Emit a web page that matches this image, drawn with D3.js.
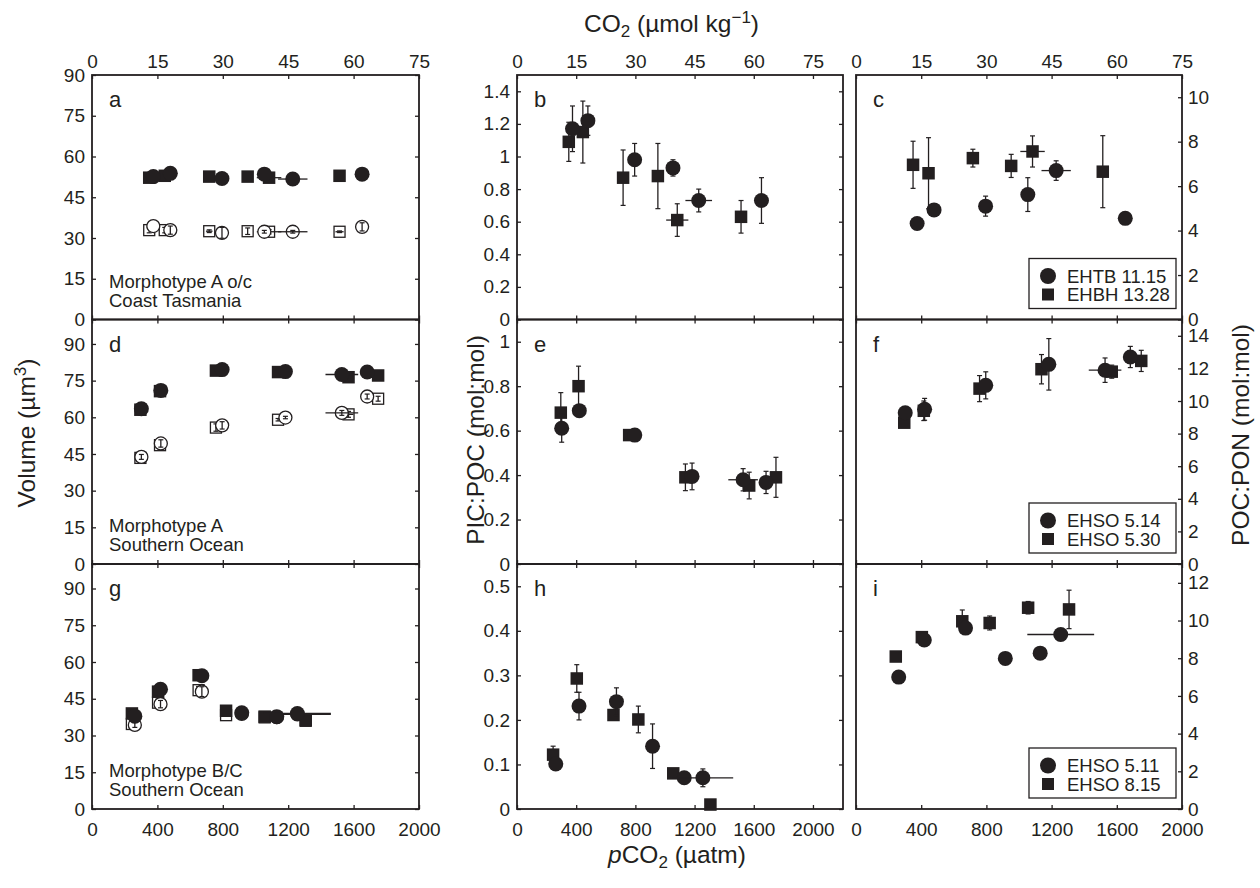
<!DOCTYPE html>
<html>
<head>
<meta charset="utf-8">
<script src="https://cdn.jsdelivr.net/npm/d3@7/dist/d3.min.js"></script>
<style>
  body { margin: 0; background: #fff; }
  svg text { font-family: "Liberation Sans", Arial, Helvetica, sans-serif; fill: #231f20; }
</style>
</head>
<body>
<div id="chart"></div>
<script>
// ---- data ----
// pCO2 (uatm) per treatment, and its SD (horizontal bars)
var xTopCirc = [375, 479, 795, 1054, 1228, 1652],  xeTopCirc = [0, 0, 0, 0, 90, 0];
var xTopSq   = [350, 445, 717, 952, 1083, 1514],   xeTopSq   = [0, 0, 20, 0, 75, 25];
var xMidCirc = [302, 421, 796, 1183, 1528, 1683],  xeMidCirc = [0, 0, 0, 0, 100, 0];
var xMidSq   = [296, 416, 758, 1138, 1569, 1750],  xeMidSq   = [0, 0, 0, 0, 30, 0];
var xBotCirc = [262, 419, 672, 916, 1130, 1256],   xeBotCirc = [0, 0, 0, 0, 0, 205];
var xBotSq   = [244, 404, 652, 820, 1056, 1307],   xeBotSq   = [0, 0, 0, 0, 0, 0];

// volume (um3): filled and open symbols
var aCircFill = [52.6, 53.8, 51.9, 53.5, 51.7, 53.5];
var aSqFill   = [52.2, 52.9, 52.6, 52.6, 52.2, 52.9];
var aCircOpen = [34.4, 32.9, 31.9, 32.3, 32.3, 34.1], aCircOpenErr = [0, 1.5, 2, 0.5, 0.5, 1.5];
var aSqOpen   = [32.9, 32.9, 32.5, 32.5, 32.3, 32.3], aSqOpenErr   = [1, 1, 0.5, 1.2, 0.8, 0.3];
var dCircFill = [63.5, 71.0, 79.5, 78.7, 77.5, 78.5];
var dSqFill   = [63.1, 70.7, 79.1, 78.5, 76.4, 77.1];
var dCircOpen = [43.8, 49.3, 56.7, 59.9, 61.8, 68.5], dCircOpenErr = [1, 1.5, 1.5, 0.5, 1, 1];
var dSqOpen   = [43.4, 48.6, 55.8, 59.0, 61.2, 67.6], dSqOpenErr   = [1, 1.5, 1.5, 0.5, 1.2, 1];
var gCircFill = [37.9, 48.9, 54.4, 39.3, 37.7, 39.0];
var gSqFill   = [39.0, 47.9, 54.6, 40.1, 37.7, 36.3];
var gCircOpen = [34.3, 42.8, 47.9, 38.8, 37.5, 38.6], gCircOpenErr = [1, 1.5, 2, 0, 0, 0];
var gSqOpen   = [34.7, 43.4, 48.5, 38.3, 37.4, 36.0], gSqOpenErr   = [1, 1.5, 1.5, 0.5, 0, 0];

// PIC:POC (mol:mol)
var bCirc = [1.17, 1.22, 0.98, 0.93, 0.73, 0.73], bCircErr = [0.14, 0.09, 0.10, 0.05, 0.07, 0.14];
var bSq   = [1.09, 1.15, 0.87, 0.88, 0.61, 0.63], bSqErr   = [0.12, 0.19, 0.17, 0.20, 0.10, 0.10];
var eCirc = [0.611, 0.69, 0.58, 0.394, 0.379, 0.367], eCircErr = [0.063, 0.02, 0.01, 0.06, 0.05, 0.05];
var eSq   = [0.681, 0.80, 0.58, 0.39, 0.353, 0.39],   eSqErr   = [0.09, 0.09, 0.01, 0.06, 0.06, 0.09];
var hCirc = [0.101, 0.231, 0.241, 0.141, 0.070, 0.070], hCircErr = [0.005, 0.031, 0.031, 0.05, 0.005, 0.02];
var hSq   = [0.122, 0.293, 0.211, 0.201, 0.080, 0.010], hSqErr   = [0.019, 0.031, 0.005, 0.03, 0.005, 0.005];

// POC:PON (mol:mol)
var cCirc = [4.32, 4.93, 5.10, 5.62, 6.70, 4.55], cCircErr = [0.1, 0.1, 0.45, 0.76, 0.44, 0.1];
var cSq   = [6.96, 6.58, 7.26, 6.91, 7.56, 6.65], cSqErr   = [1.06, 1.6, 0.4, 0.52, 0.7, 1.62];
var fCirc = [9.28, 9.49, 10.96, 12.25, 11.89, 12.70], fCircErr = [0.2, 0.67, 0.83, 1.58, 0.75, 0.65];
var fSq   = [8.67, 9.4, 10.76, 11.95, 11.8, 12.46],   fSqErr   = [0.2, 0.6, 0.8, 0.9, 0.4, 0.65];
var iCirc = [7.0, 8.97, 9.6, 7.99, 8.27, 9.26],  iCircErr = [0.1, 0.1, 0.1, 0.1, 0.1, 0.1];
var iSq   = [8.09, 9.12, 9.96, 9.87, 10.68, 10.59], iSqErr = [0.1, 0.1, 0.6, 0.37, 0.33, 1.02];

var pco2Ticks = [0, 400, 800, 1200, 1600, 2000];
var co2Ticks = [0, 15, 30, 45, 60, 75];
var legendNames = [["EHTB 11.15", "EHBH 13.28"], ["EHSO 5.14", "EHSO 5.30"], ["EHSO 5.11", "EHSO 8.15"]];
var notes = [["Morphotype A o/c", "Coast Tasmania"], ["Morphotype A", "Southern Ocean"], ["Morphotype B/C", "Southern Ocean"]];

// ---- layout ----
var ink = "#231f20";
var cols = [{x0: 92, x1: 419, xmax: 2000}, {x0: 517, x1: 843, xmax: 2203}, {x0: 856, x1: 1182, xmax: 2000}];
var rows = [{y0: 75, y1: 319.5}, {y0: 319.5, y1: 564}, {y0: 564, y1: 809}];

function ser(x, xe, y, ye, shape, open) {
  return {x: x, xe: xe, y: y, ye: ye || y.map(function() { return 0; }), shape: shape, open: open};
}

var xs = [[xTopCirc, xeTopCirc, xTopSq, xeTopSq], [xMidCirc, xeMidCirc, xMidSq, xeMidSq], [xBotCirc, xeBotCirc, xBotSq, xeBotSq]];

var panels = [
  {id: "a", row: 0, col: 0, ymax: 90, ticks: d3.range(0, 91, 15),
   series: [ser(xs[0][2], xs[0][3], aSqOpen, aSqOpenErr, "sq", true), ser(xs[0][0], xs[0][1], aCircOpen, aCircOpenErr, "c", true),
            ser(xs[0][2], xs[0][3], aSqFill, null, "sq", false), ser(xs[0][0], xs[0][1], aCircFill, null, "c", false)]},
  {id: "b", row: 0, col: 1, ymax: 1.5, ticks: d3.range(0, 8).map(function(i) { return i * 0.2; }),
   series: [ser(xs[0][2], xs[0][3], bSq, bSqErr, "sq"), ser(xs[0][0], xs[0][1], bCirc, bCircErr, "c")]},
  {id: "c", row: 0, col: 2, ymax: 11, ticks: d3.range(0, 11, 2),
   series: [ser(xs[0][2], xs[0][3], cSq, cSqErr, "sq"), ser(xs[0][0], xs[0][1], cCirc, cCircErr, "c")]},
  {id: "d", row: 1, col: 0, ymax: 100, ticks: d3.range(0, 91, 15),
   series: [ser(xs[1][2], xs[1][3], dSqOpen, dSqOpenErr, "sq", true), ser(xs[1][0], xs[1][1], dCircOpen, dCircOpenErr, "c", true),
            ser(xs[1][2], xs[1][3], dSqFill, null, "sq", false), ser(xs[1][0], xs[1][1], dCircFill, null, "c", false)]},
  {id: "e", row: 1, col: 1, ymax: 1.1, ticks: d3.range(0, 6).map(function(i) { return i * 0.2; }),
   series: [ser(xs[1][2], xs[1][3], eSq, eSqErr, "sq"), ser(xs[1][0], xs[1][1], eCirc, eCircErr, "c")]},
  {id: "f", row: 1, col: 2, ymax: 15, ticks: d3.range(0, 15, 2),
   series: [ser(xs[1][2], xs[1][3], fSq, fSqErr, "sq"), ser(xs[1][0], xs[1][1], fCirc, fCircErr, "c")]},
  {id: "g", row: 2, col: 0, ymax: 100, ticks: d3.range(0, 91, 15),
   series: [ser(xs[2][2], xs[2][3], gSqOpen, gSqOpenErr, "sq", true), ser(xs[2][0], xs[2][1], gCircOpen, gCircOpenErr, "c", true),
            ser(xs[2][2], xs[2][3], gSqFill, null, "sq", false), ser(xs[2][0], xs[2][1], gCircFill, null, "c", false)]},
  {id: "h", row: 2, col: 1, ymax: 0.55, ticks: d3.range(0, 6).map(function(i) { return i * 0.1; }),
   series: [ser(xs[2][2], xs[2][3], hSq, hSqErr, "sq"), ser(xs[2][0], xs[2][1], hCirc, hCircErr, "c")]},
  {id: "i", row: 2, col: 2, ymax: 13, ticks: d3.range(0, 13, 2),
   series: [ser(xs[2][2], xs[2][3], iSq, iSqErr, "sq"), ser(xs[2][0], xs[2][1], iCirc, iCircErr, "c")]}
];

var svg = d3.select("#chart").append("svg").attr("width", 1260).attr("height", 888);

function fmt(v) { return String(+v.toFixed(2)); }
function noLabel() { return ""; }

function styleAxis(g) {
  g.select(".domain").remove();
  g.attr("font-size", 19).attr("font-family", null);
  g.selectAll(".tick line").attr("stroke", ink).attr("stroke-width", 1.3);
  g.selectAll(".tick text").attr("fill", ink);
}

function drawMarker(g, shape, cx, cy, open, size) {
  if (shape === "c") {
    var r = open ? 6.5 : (size || 7.5);
    g.append("circle").attr("cx", cx).attr("cy", cy).attr("r", r)
      .attr("fill", open ? "#fff" : ink).attr("stroke", ink).attr("stroke-width", open ? 1.3 : 0);
  } else {
    var s = open ? 11 : (size || 12.5);
    g.append("rect").attr("x", cx - s / 2).attr("y", cy - s / 2).attr("width", s).attr("height", s)
      .attr("fill", open ? "#fff" : ink).attr("stroke", ink).attr("stroke-width", open ? 1.3 : 0);
  }
}

function drawErr(g, x, y, d, i) {
  var cx = x(d.x[i]), cy = y(d.y[i]);
  if (d.xe[i] > 0) {
    g.append("line").attr("x1", x(d.x[i] - d.xe[i])).attr("x2", x(d.x[i] + d.xe[i]))
      .attr("y1", cy).attr("y2", cy).attr("stroke", ink).attr("stroke-width", 1.3);
  }
  if (d.ye[i] > 0) {
    var lo = y(d.y[i] - d.ye[i]), hi = y(d.y[i] + d.ye[i]);
    g.append("line").attr("x1", cx).attr("x2", cx).attr("y1", lo).attr("y2", hi)
      .attr("stroke", ink).attr("stroke-width", 1.3);
    [lo, hi].forEach(function(yy) {
      g.append("line").attr("x1", cx - 2.5).attr("x2", cx + 2.5).attr("y1", yy).attr("y2", yy)
        .attr("stroke", ink).attr("stroke-width", 1.2);
    });
  }
}

panels.forEach(function(p) {
  var c = cols[p.col], r = rows[p.row];
  var x = d3.scaleLinear().domain([0, c.xmax]).range([c.x0, c.x1]);
  var y = d3.scaleLinear().domain([0, p.ymax]).range([r.y1, r.y0]);
  var co2 = d3.scaleLinear().domain([0, 75]).range([x(0), x(2000)]);

  // bottom / top ticks (inward)
  svg.append("g").attr("transform", "translate(0," + r.y1 + ")")
    .call(d3.axisBottom(x).tickValues(pco2Ticks).tickSize(-4).tickPadding(14)
      .tickFormat(p.row === 2 ? d3.format("d") : noLabel))
    .call(styleAxis);
  svg.append("g").attr("transform", "translate(0," + r.y0 + ")")
    .call(d3.axisTop(co2).tickValues(co2Ticks).tickSize(-4).tickPadding(7)
      .tickFormat(p.row === 0 ? d3.format("d") : noLabel))
    .call(styleAxis);

  // left / right ticks
  if (p.col < 2) {
    svg.append("g").attr("transform", "translate(" + c.x0 + ",0)")
      .call(d3.axisLeft(y).tickValues(p.ticks).tickSize(-4).tickPadding(7).tickFormat(fmt))
      .call(styleAxis);
  }
  svg.append("g").attr("transform", "translate(" + c.x1 + ",0)")
    .call(d3.axisRight(y).tickValues(p.ticks).tickSize(-4).tickPadding(6)
      .tickFormat(p.col === 2 ? fmt : noLabel))
    .call(styleAxis);

  // frame
  svg.append("rect").attr("x", c.x0).attr("y", r.y0).attr("width", c.x1 - c.x0).attr("height", r.y1 - r.y0)
    .attr("fill", "none").attr("stroke", ink).attr("stroke-width", 1.8);

  // data
  var g = svg.append("g");
  p.series.forEach(function(d) {
    d.y.forEach(function(v, i) {
      if (d.open) {
        drawMarker(g, d.shape, x(d.x[i]), y(v), true);
        drawErr(g, x, y, d, i);
      } else {
        drawErr(g, x, y, d, i);
        drawMarker(g, d.shape, x(d.x[i]), y(v), false);
      }
    });
  });

  // panel letter
  svg.append("text").attr("x", c.x0 + 17).attr("y", r.y0 + 32).attr("font-size", 22).text(p.id);

  if (p.col === 0) {
    notes[p.row].forEach(function(t, k) {
      svg.append("text").attr("x", c.x0 + 17).attr("y", r.y1 - 32 + k * 19).attr("font-size", 18.5).text(t);
    });
  }

  if (p.col === 2) {
    var bx = c.x1 - 153, by = r.y1 - 61;
    svg.append("rect").attr("x", bx).attr("y", by).attr("width", 147).attr("height", 50)
      .attr("fill", "#fff").attr("stroke", ink).attr("stroke-width", 1.3);
    var lg = svg.append("g");
    drawMarker(lg, "c", bx + 19, by + 17.5, false, 8);
    drawMarker(lg, "sq", bx + 19, by + 36, false, 12);
    legendNames[p.row].forEach(function(t, k) {
      svg.append("text").attr("x", bx + 38).attr("y", by + 24 + k * 18.7).attr("font-size", 18.5).text(t);
    });
  }
});

// ---- axis titles ----
var topTitle = svg.append("text").attr("x", 584).attr("y", 32).attr("font-size", 24.5);
topTitle.append("tspan").text("CO");
topTitle.append("tspan").attr("font-size", 17).attr("dy", 5).text("2");
topTitle.append("tspan").attr("dy", -5).text(" (µmol kg");
topTitle.append("tspan").attr("font-size", 17).attr("dy", -9).text("\u22121");
topTitle.append("tspan").attr("dy", 9).text(")");

var botTitle = svg.append("text").attr("x", 608).attr("y", 863).attr("font-size", 24.5);
botTitle.append("tspan").attr("font-style", "italic").text("p");
botTitle.append("tspan").text("CO");
botTitle.append("tspan").attr("font-size", 17).attr("dy", 5).text("2");
botTitle.append("tspan").attr("dy", -5).text(" (µatm)");

var volTitle = svg.append("text").attr("transform", "translate(35,433) rotate(-90)")
  .attr("text-anchor", "middle").attr("font-size", 24.5);
volTitle.append("tspan").text("Volume (µm");
volTitle.append("tspan").attr("font-size", 17).attr("dy", -9).text("3");
volTitle.append("tspan").attr("dy", 9).text(")");

svg.append("text").attr("transform", "translate(484,440) rotate(-90)")
  .attr("text-anchor", "middle").attr("font-size", 24.5).text("PIC:POC (mol:mol)");

svg.append("text").attr("transform", "translate(1249,435) rotate(-90)")
  .attr("text-anchor", "middle").attr("font-size", 24.5).text("POC:PON (mol:mol)");
</script>
</body>
</html>
